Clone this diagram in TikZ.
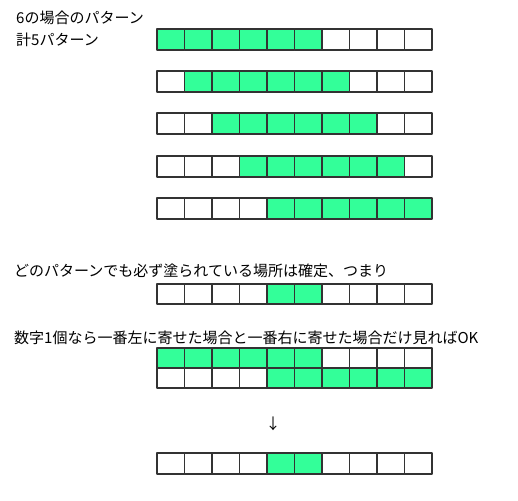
\documentclass[tikz,border=0pt]{standalone}
\usepackage{fontspec}
\newfontfamily\cjk{Noto Sans CJK JP}
\definecolor{mint}{RGB}{51,255,153}
\begin{document}
\begin{tikzpicture}[x=1pt, y=-1pt, font=\cjk\fontsize{15}{17}\selectfont, line join=round,
  cell/.style={draw=black!80, line width=1.1pt},
  label/.style={anchor=west, inner sep=0pt}]
\useasboundingbox (0,0) rectangle (518,500);
\def\w{27.5} \def\h{21} \def\xo{157}
% five sliding patterns
\foreach \t [count=\k from 0] in {29,71,113,156,198}{
  \fill[mint] (\xo+\k*\w,\t) rectangle +(6*\w,\h);
  \foreach \i in {0,...,9} \draw[cell] (\xo+\i*\w,\t) rectangle +(\w,\h);
}
\node[label] (title) at (16,18) {6の場合のパターン};
\node[label] (total) at (16,40) {計5パターン};
% fixed cells
\node[label] (note) at (14,271) {どのパターンでも必ず塗られている場所は確定、つまり};
\fill[mint] (\xo+4*\w,284) rectangle +(2*\w,20);
\foreach \i in {0,...,9} \draw[cell] (\xo+\i*\w,284) rectangle +(\w,20);
% leftmost and rightmost
\node[label] (rule) at (14,338) {数字1個なら一番左に寄せた場合と一番右に寄せた場合だけ見ればOK};
\fill[mint] (\xo,348) rectangle +(6*\w,20);
\fill[mint] (\xo+4*\w,368) rectangle +(6*\w,20);
\foreach \t in {348,368}
  \foreach \i in {0,...,9} \draw[cell] (\xo+\i*\w,\t) rectangle +(\w,20);
\node[inner sep=0pt] (arrow) at (273,424) {↓};
% result
\fill[mint] (\xo+4*\w,453) rectangle +(2*\w,21);
\foreach \i in {0,...,9} \draw[cell] (\xo+\i*\w,453) rectangle +(\w,21);
\end{tikzpicture}
\end{document}
